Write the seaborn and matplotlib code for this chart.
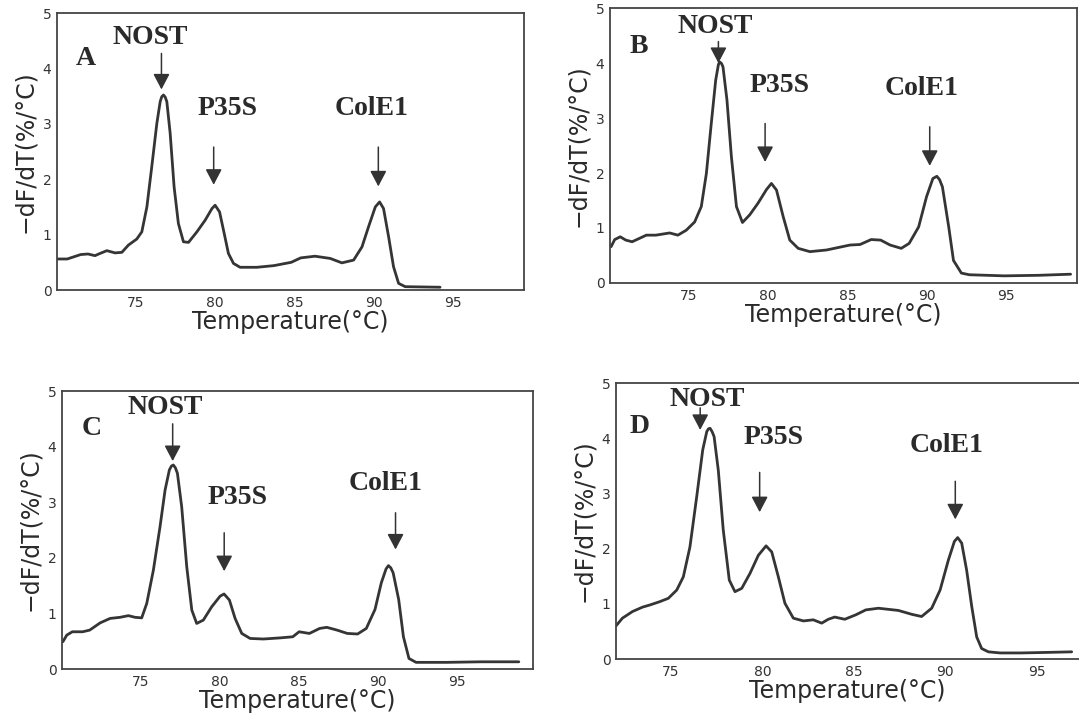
import matplotlib
matplotlib.use("Agg")
import matplotlib.pyplot as plt
import seaborn as sns

# ======== data (temperature in C, -dF/dT in %/C) ========
temps_a = [70.0, 70.65, 71.5, 71.96, 72.4, 72.72, 73.15, 73.67, 74.1, 74.51, 75.04, 75.36,
           75.68, 75.99, 76.31, 76.52, 76.62, 76.73, 76.84, 76.94, 77.15, 77.4, 77.67, 77.99,
           78.31, 78.84, 79.36, 79.79, 79.99, 80.27, 80.52, 80.83, 81.15, 81.57, 82.63, 83.7,
           84.8, 85.4, 86.3, 87.26, 88.0, 88.74, 89.27, 89.68, 90.11, 90.38, 90.63, 90.95,
           91.26, 91.58, 92.0, 94.2]
dfdt_a = [0.56, 0.56, 0.64, 0.65, 0.62, 0.66, 0.71, 0.67, 0.68, 0.81, 0.92, 1.05,
          1.50, 2.23, 3.01, 3.40, 3.49, 3.52, 3.48, 3.40, 2.83, 1.86, 1.20, 0.87,
          0.86, 1.05, 1.26, 1.47, 1.53, 1.41, 1.08, 0.66, 0.48, 0.41, 0.41, 0.44,
          0.50, 0.58, 0.61, 0.57, 0.49, 0.54, 0.78, 1.14, 1.50, 1.59, 1.47, 0.96,
          0.42, 0.12, 0.06, 0.05]

temps_b = [70.07, 70.3, 70.65, 71.0, 71.4, 71.85, 72.3, 72.9, 73.77, 74.29, 74.82, 75.35,
           75.77, 76.09, 76.4, 76.68, 76.85, 76.93, 77.05, 77.14, 77.39, 77.67, 77.99, 78.37,
           78.83, 79.35, 79.89, 80.2, 80.52, 80.94, 81.36, 81.89, 82.63, 83.68, 85.16, 85.8,
           86.5, 87.1, 87.7, 88.4, 88.9, 89.5, 90.0, 90.4, 90.65, 90.82, 91.0, 91.4,
           91.7, 92.2, 92.7, 94.9, 97.1, 99.1]
dfdt_b = [0.66, 0.79, 0.84, 0.78, 0.75, 0.81, 0.87, 0.87, 0.91, 0.87, 0.96, 1.11,
          1.39, 1.99, 2.90, 3.69, 3.97, 4.02, 3.99, 3.93, 3.33, 2.30, 1.39, 1.10,
          1.24, 1.45, 1.70, 1.81, 1.69, 1.21, 0.78, 0.63, 0.57, 0.60, 0.69, 0.70,
          0.79, 0.78, 0.69, 0.63, 0.72, 1.02, 1.57, 1.90, 1.94, 1.88, 1.75, 1.02,
          0.41, 0.18, 0.15, 0.13, 0.14, 0.16]

temps_c = [70.05, 70.3, 70.65, 71.3, 71.75, 72.41, 73.04, 73.67, 74.2, 74.62, 75.04, 75.36,
           75.78, 76.2, 76.52, 76.79, 76.92, 77.04, 77.17, 77.3, 77.57, 77.89, 78.21, 78.52,
           78.94, 79.47, 80.0, 80.25, 80.59, 80.95, 81.37, 81.9, 82.74, 83.8, 84.6, 85.0,
           85.65, 86.3, 86.75, 87.4, 88.05, 88.7, 89.25, 89.8, 90.2, 90.5, 90.65, 90.8,
           90.95, 91.3, 91.6, 91.95, 92.4, 94.35, 96.5, 98.9]
dfdt_c = [0.49, 0.61, 0.67, 0.67, 0.70, 0.83, 0.91, 0.93, 0.96, 0.93, 0.92, 1.18,
          1.78, 2.56, 3.22, 3.58, 3.65, 3.67, 3.62, 3.52, 2.92, 1.84, 1.06, 0.82,
          0.88, 1.12, 1.31, 1.35, 1.24, 0.91, 0.64, 0.55, 0.54, 0.56, 0.58, 0.67,
          0.64, 0.73, 0.75, 0.70, 0.64, 0.63, 0.73, 1.07, 1.55, 1.80, 1.86, 1.82,
          1.73, 1.25, 0.58, 0.19, 0.12, 0.12, 0.13, 0.13]

temps_d = [72.0, 72.35, 72.9, 73.45, 73.86, 74.4, 74.86, 75.32, 75.68, 76.04, 76.41, 76.74,
           76.96, 77.05, 77.14, 77.25, 77.36, 77.59, 77.86, 78.19, 78.5, 78.87, 79.32, 79.78,
           80.2, 80.51, 80.87, 81.23, 81.69, 82.24, 82.78, 83.24, 83.6, 83.95, 84.5, 85.1,
           85.65, 86.34, 87.43, 88.16, 88.7, 89.25, 89.71, 90.16, 90.49, 90.67, 90.89, 91.16,
           91.44, 91.71, 91.98, 92.35, 93.0, 94.1, 95.6, 96.9]
dfdt_d = [0.60, 0.74, 0.86, 0.94, 0.98, 1.04, 1.10, 1.25, 1.49, 2.03, 2.94, 3.79,
          4.12, 4.17, 4.18, 4.12, 4.03, 3.42, 2.34, 1.43, 1.22, 1.28, 1.55, 1.88,
          2.05, 1.94, 1.49, 1.01, 0.74, 0.69, 0.71, 0.65, 0.72, 0.76, 0.72, 0.80,
          0.89, 0.92, 0.88, 0.81, 0.77, 0.92, 1.25, 1.79, 2.13, 2.20, 2.10, 1.61,
          0.95, 0.40, 0.19, 0.13, 0.11, 0.11, 0.12, 0.13]

x_ticks = [75, 80, 85, 90, 95]
y_ticks = [0, 1, 2, 3, 4, 5]
peak_names = ["NOST", "P35S", "ColE1"]
panel_letters = ["A", "B", "C", "D"]

# ======== layout: axes rect, xlim, letter pos, label pos, arrow (x, y_top, y_tip) ========
PANELS = [
    dict(rect=[0.0528, 0.5944, 0.4328, 0.3874], xlim=(70, 99.5), right=True,
         letter=(71.85, 4.18), labels=[(75.9, 4.55), (80.8, 3.27), (89.85, 3.27)],
         arrows=[(76.6, 4.27, 3.62), (79.9, 2.58, 1.90), (90.3, 2.58, 1.87)]),
    dict(rect=[0.5653, 0.6042, 0.4328, 0.3846], xlim=(70, 99.5), right=True,
         letter=(71.8, 4.30), labels=[(76.67, 4.67), (80.7, 3.60), (89.67, 3.54)],
         arrows=[(76.85, 4.39, 4.0), (79.8, 2.90, 2.20), (90.2, 2.84, 2.13)]),
    dict(rect=[0.0575, 0.0643, 0.4365, 0.3888], xlim=(70, 99.8), right=True,
         letter=(71.85, 4.32), labels=[(76.5, 4.71), (81.1, 3.08), (90.5, 3.33)],
         arrows=[(77.0, 4.41, 3.74), (80.26, 2.45, 1.76), (91.1, 2.81, 2.15)]),
    dict(rect=[0.5709, 0.0783, 0.4291, 0.3860], xlim=(72, 97.3), right=False,
         letter=(73.3, 4.22), labels=[(77.0, 4.70), (80.6, 4.01), (90.07, 3.86)],
         arrows=[(76.6, 4.55, 4.15), (79.85, 3.38, 2.66), (90.54, 3.22, 2.53)]),
]

LINE_COLOR = "#353535"
SERIF = ["Liberation Serif", "DejaVu Serif"]

sns.set_theme(style="white")
plt.rcParams["font.family"] = ["DejaVu Sans"]
plt.rcParams["axes.edgecolor"] = "#444444"

fig = plt.figure(figsize=(10.79, 7.15), dpi=100)
series = [(temps_a, dfdt_a), (temps_b, dfdt_b), (temps_c, dfdt_c), (temps_d, dfdt_d)]

for (temps, vals), cfg, letter in zip(series, PANELS, panel_letters):
    ax = fig.add_axes(cfg["rect"])
    sns.lineplot(x=temps, y=vals, ax=ax, color=LINE_COLOR, lw=2.0,
                 sort=False, estimator=None)
    ax.set_xlim(*cfg["xlim"])
    ax.set_ylim(0, 5)
    ax.set_xticks(x_ticks)
    ax.set_yticks(y_ticks)
    ax.tick_params(axis="both", labelsize=10, length=2, width=0.8, direction="in",
                   colors="#333333", pad=4)
    for s in ax.spines.values():
        s.set_linewidth(1.3)
        s.set_color("#444444")
    if not cfg["right"]:
        ax.spines["right"].set_visible(False)
    ax.set_xlabel("Temperature(°C)", fontsize=17, color="#2a2a2a", labelpad=0)
    ax.set_ylabel("\u2212dF/dT(%/°C)", fontsize=17, color="#2a2a2a", labelpad=4)

    ax.text(*cfg["letter"], letter, fontsize=20, fontweight="bold", family=SERIF,
            color="#2a2a2a", ha="center", va="center")
    for name, (lx, ly), (axx, y0, y1) in zip(peak_names, cfg["labels"], cfg["arrows"]):
        ax.text(lx, ly, name, fontsize=20, fontweight="bold", family=SERIF,
                color="#2a2a2a", ha="center", va="center")
        ax.annotate("", xy=(axx, y1), xytext=(axx, y0),
                    arrowprops=dict(arrowstyle="-|>,head_length=0.95,head_width=0.5",
                                    color="#333333", lw=1.1, shrinkA=0, shrinkB=0,
                                    mutation_scale=10))

fig.savefig("out.png", dpi=100)
